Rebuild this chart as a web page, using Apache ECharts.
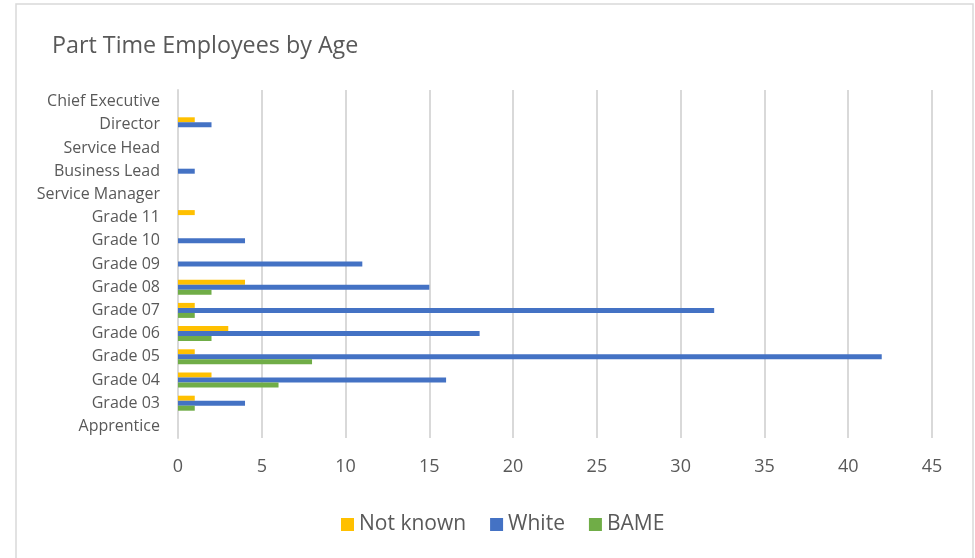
<!DOCTYPE html>
<html lang="en">

<head>
    <meta charset="UTF-8">
    <title>Part Time Employees by Age</title>
    <style>
        html, body { margin: 0; padding: 0; background: #fff; }
    </style>
</head>

<body>
    <div id="main" style="width: 975px; height: 558px"></div>
    <script src="https://cdn.jsdelivr.net/npm/echarts@6/dist/echarts.min.js"></script>
    <script type="text/javascript">
        var categories = ['Apprentice', 'Grade 03', 'Grade 04', 'Grade 05', 'Grade 06', 'Grade 07',
            'Grade 08', 'Grade 09', 'Grade 10', 'Grade 11', 'Service Manager', 'Business Lead',
            'Service Head', 'Director', 'Chief Executive'];
        var notKnown = [null, 1, 2, 1, 3, 1, 4, null, null, 1, null, null, null, 1, null];
        var white = [null, 4, 16, 42, 18, 32, 15, 11, 4, null, null, 1, null, 2, null];
        var bame = [null, 1, 6, 8, 2, 1, 2, null, null, null, null, null, null, null, null];
        var xTicks = [0, 5, 10, 15, 20, 25, 30, 35, 40, 45];

        var myChart = echarts.init(document.getElementById('main'));
        var font = '"Open Sans", "Noto Sans", sans-serif';

        var option = {
            animation: false,
            color: ['#FFC000', '#4472C4', '#70AD47'],
            graphic: [{
                type: 'rect',
                shape: { x: 16, y: 4, width: 957, height: 570 },
                style: { fill: 'none', stroke: '#d9d9d9', lineWidth: 1.5 }
            }],
            title: {
                text: 'Part Time Employees by Age',
                left: 47,
                top: 30,
                textStyle: { fontFamily: font, fontSize: 23.3, fontWeight: 'normal', color: '#595959' }
            },
            legend: {
                top: 509,
                left: 336,
                itemWidth: 13,
                itemHeight: 13,
                itemGap: 24,
                icon: 'rect',
                textStyle: { fontFamily: font, fontSize: 21, color: '#595959' },
                data: ['Not known', 'White', 'BAME']
            },
            grid: {
                left: 178,
                right: 43,
                top: 90,
                bottom: 120,
                containLabel: false
            },
            xAxis: {
                type: 'value',
                min: xTicks[0],
                max: xTicks[xTicks.length - 1],
                interval: 5,
                axisLine: { show: false },
                axisTick: { show: false },
                axisLabel: { fontFamily: font, fontSize: 18, color: '#595959', margin: 20 },
                splitLine: { lineStyle: { color: '#d9d9d9', width: 2 } }
            },
            yAxis: {
                type: 'category',
                data: categories,
                axisLine: { lineStyle: { color: '#d9d9d9', width: 2 } },
                axisTick: { show: false },
                axisLabel: { fontFamily: font, fontSize: 16, color: '#595959', margin: 18 }
            },
            series: [
                { name: 'Not known', type: 'bar', data: notKnown, barWidth: 5, barGap: '0%' },
                { name: 'White', type: 'bar', data: white, barWidth: 5, barGap: '0%' },
                { name: 'BAME', type: 'bar', data: bame, barWidth: 5, barGap: '0%' }
            ]
        };
        myChart.setOption(option);
    </script>

</body>

</html>
